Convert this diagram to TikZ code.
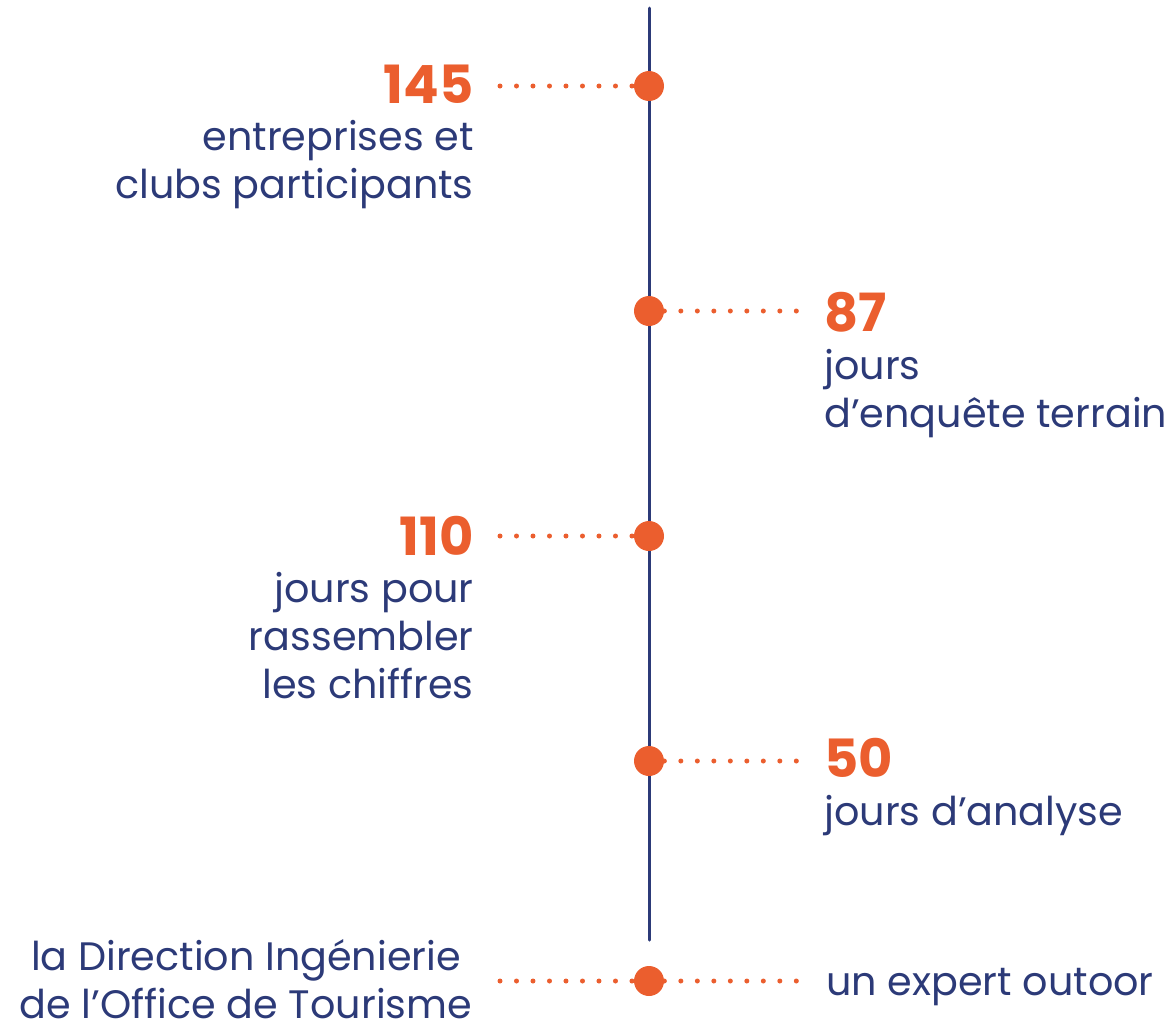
\documentclass[tikz,border=0pt]{standalone}
\usepackage{fontspec}
\setmainfont{Poppins}
\definecolor{accent}{HTML}{EB5E2E}
\definecolor{ink}{HTML}{2C3A78}
\begin{document}
\begin{tikzpicture}[x=0.02cm, y=-0.02cm, line cap=round,
	fil/.style={draw=ink, line width=0.06cm},
	pastille/.style={circle, fill=accent, inner sep=0pt, minimum size=0.6cm},
	pointille/.style={accent, line width=0.1cm, dash pattern=on 0pt off 0.33cm},
	chiffre/.style={text=accent, font=\fontsize{30}{34}\selectfont\bfseries, inner sep=0pt},
	legende/.style={text=ink, font=\fontsize{22.6}{27.3}\selectfont, inner sep=0pt}]
	%Cadre
	\useasboundingbox (0,0) rectangle (1171,1025);
	%Axe vertical
	\coordinate (haut) at (649,8);
	\coordinate (bas) at (649,940);
	\draw[fil] (haut) -- (bas);
	%Pastilles et points de départ
	\foreach \i/\y in {1/86, 2/311, 3/536, 4/761, 5/981}{
			\node[pastille] (p\i) at (649,\y) {};
			\coordinate (g\i) at (500,\y);
			\coordinate (d\i) at (797,\y);
		}
	%Pointillés
	\foreach \i in {1,3,5}
	\draw[pointille] (g\i) -- (p\i);
	\foreach \i in {2,4,5}
	\draw[pointille] (p\i) -- (d\i);
	%Textes (ancre base = dernière ligne)
	\node[chiffre, anchor=base east] (n145) at (474,103) {145};
	\node[legende, anchor=base east, align=right] (t145) at (474,198) {entreprises et\\clubs participants};
	\node[chiffre, anchor=base west] (n87) at (824,331) {87};
	\node[legende, anchor=base west, align=left] (t87) at (824,427) {jours\\d’enquête terrain};
	\node[chiffre, anchor=base east] (n110) at (474,555) {110};
	\node[legende, anchor=base east, align=right] (t110) at (474,698) {jours pour\\rassembler\\les chiffres};
	\node[chiffre, anchor=base west] (n50) at (824,777) {50};
	\node[legende, anchor=base west] (t50) at (824,825) {jours d’analyse};
	\node[legende, anchor=base, align=center] (dir) at (246,1018) {la Direction Ingénierie\\de l’Office de Tourisme};
	\node[legende, anchor=base west] (exp) at (826,995) {un expert outoor};
\end{tikzpicture}
\end{document}
